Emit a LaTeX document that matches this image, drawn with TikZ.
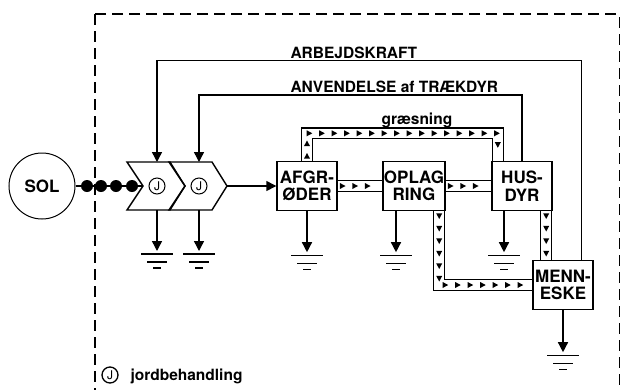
\documentclass[tikz,border=0pt]{standalone}
\usepackage{fontspec}
\setmainfont{TeX Gyre Heros}
\usetikzlibrary{arrows.meta,positioning,calc,decorations.markings}

\tikzset{
  flow/.style={line width=1.4pt, -{Triangle[width=10pt,length=10pt]}},
  unit/.style={draw, line width=1.4pt, fill=white, minimum width=60pt, minimum height=49pt,
    inner sep=1pt, align=center, font=\fontsize{17}{17.5}\selectfont\bfseries},
  jcirc/.style={circle, draw, line width=1pt, inner sep=0pt, minimum size=16pt, font=\fontsize{12}{12}\selectfont},
  band/.style={double, double distance=9.5pt, line width=1.3pt,
    postaction={decorate},
    decoration={markings, mark=between positions 5pt and -4pt step 12.5pt with
      {\fill (2.8,0) -- (-2.8,3) -- (-2.8,-3) -- cycle;}}},
  groundsym/.pic={
    \draw[line width=1.4pt] (-16,0) -- (16,0) (-10,8) -- (10,8) (-4,14) -- (4,14);},
  chevron/.pic={
    \draw[line width=1.4pt] (-30,-24) -- (13,-24) -- (28,0) -- (13,24) -- (-30,24) -- (-14,0) -- cycle;
    \coordinate (-top) at (0,-24);
    \coordinate (-bot) at (0,24);
    \coordinate (-tip) at (28,0);
    \coordinate (-notch) at (-14,0);}
}

\begin{document}
\begin{tikzpicture}[x=1pt, y=-1pt, font=\fontsize{15.5}{17}\selectfont\bfseries]
  \useasboundingbox (0,0) rectangle (621,389);
  \clip (0,0) rectangle (621,389);
  % system border
  \draw[line width=1.3pt, dash pattern=on 11pt off 6pt] (95,14) rectangle (619.5,430);
  % sun and energy input
  \node[circle, draw, line width=1pt, minimum size=66pt, font=\fontsize{17}{17}\selectfont\bfseries] (sol) at (42,186) {SOL};
  \pic (c1) at (157,186) {chevron};
  \pic (c2) at (199,186) {chevron};
  \node[jcirc] (j1) at (157,186) {J};
  \node[jcirc] (j2) at (199,186) {J};
  \draw[line width=1.4pt] (sol.east) -- (c1-notch);
  \foreach \x in {87,101,116,132} {
    \fill (\x,186) circle (6);
  }
  % compartments
  \node[unit] (afg) at (307,186) {AFGR-\\ØDER};
  \node[unit] (opl) at (414,186) {OPLAG\\RING};
  \node[unit] (hus) at (522,186) {HUS-\\DYR};
  \node[unit] (men) at (563,285) {MENN-\\ESKE};
  \draw[flow] (c2-tip) -- (afg.west);
  % material flows
  \draw[band] (afg.east) -- (opl.west);
  \draw[band] (opl.east) -- (hus.west);
  \draw[band] (afg.north) -- ++(0,-27.5) -| ([xshift=6.5pt]hus.north west);
  \draw[band] ([xshift=-6.5pt]opl.south east) |- (men.west);
  \draw[band] ([xshift=-6.5pt]hus.south east) -- ([xshift=-6.5pt]hus.south east |- men.north);
  \node[anchor=base west] (graes) at (378,124) {græsning};
  % feedback
  \draw[flow] ([xshift=-12pt]men.north east) -- ++(0,-199.5) -| (c1-top);
  \draw[flow] (hus.north) -- ++(0,-66) -| (c2-top);
  \node[anchor=base west] (arb) at (287,58) {ARBEJDSKRAFT};
  \node[anchor=base west] (anv) at (287,92) {ANVENDELSE af TRÆKDYR};
  % heat sinks
  \path (c1-bot) ++(0,44) coordinate (g1) pic {groundsym};
  \path (c2-bot) ++(0,44) coordinate (g2) pic {groundsym};
  \path (afg.south) ++(0,44) coordinate (g3) pic {groundsym};
  \path ([xshift=-18pt]opl.south) ++(0,44) coordinate (g4) pic {groundsym};
  \path ([xshift=-18pt]hus.south) ++(0,44) coordinate (g5) pic {groundsym};
  \path (men.south) ++(0,45) coordinate (g6) pic {groundsym};
  \draw[flow, shorten >=3pt] (c1-bot) -- (g1);
  \draw[flow, shorten >=3pt] (c2-bot) -- (g2);
  \draw[flow, shorten >=3pt] (afg.south) -- (g3);
  \draw[flow, shorten >=3pt] ([xshift=-18pt]opl.south) -- (g4);
  \draw[flow, shorten >=3pt] ([xshift=-18pt]hus.south) -- (g5);
  \draw[flow, shorten >=3pt] (men.south) -- (g6);
  % legend
  \node[jcirc, line width=1.3pt] (jleg) at (110,375) {J};
  \node[anchor=base west] (leg) at (127,380) {jordbehandling};
\end{tikzpicture}
\end{document}
